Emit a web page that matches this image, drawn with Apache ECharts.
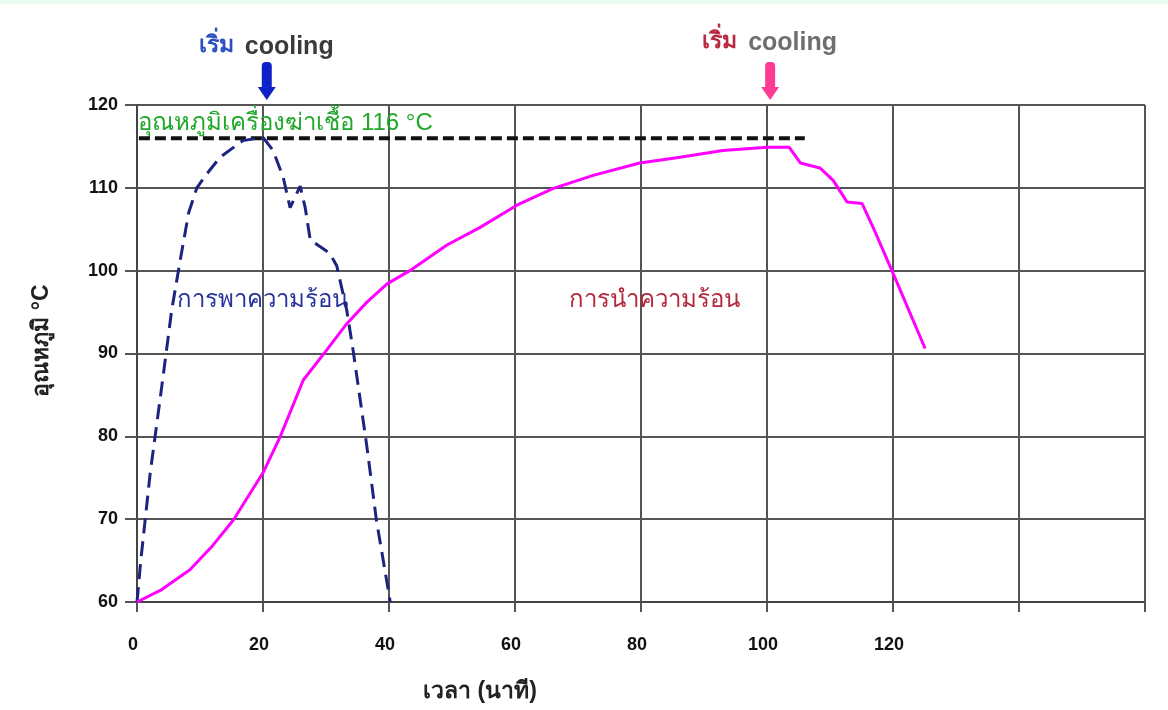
<!DOCTYPE html>
<html>
<head>
<meta charset="utf-8">
<script src="https://cdn.jsdelivr.net/npm/echarts@6/dist/echarts.min.js"></script>
<style>
  html, body { margin: 0; padding: 0; background: #fff; }
  #chart { width: 1168px; height: 710px; }
</style>
</head>
<body>
<div id="chart"></div>
<script>
// การพาความร้อน (dashed blue) : [เวลา นาที, อุณหภูมิ C]
const convection = [
  [0, 60], [0.6, 65], [2.1, 75.6], [4, 86.4], [5.5, 95.2], [6.8, 101], [8.2, 107],
  [9.5, 110], [11.1, 111.7], [13.2, 113.7], [16.8, 115.7], [20, 116.1], [21.6, 114.5],
  [23.2, 111.3], [24.3, 107.6], [25.9, 110.2], [26.7, 107.6], [27.5, 103.7], [30.6, 102.1],
  [31.7, 100.6], [33.3, 95.2], [34.3, 90.4], [36.5, 78.7], [38, 69.9], [40.2, 60]
]
// การนำความร้อน (magenta)
const conduction = [
  [0, 60], [3.7, 61.4], [8.4, 63.9], [12, 66.8], [15.3, 69.9], [20, 75.6], [22.7, 79.9],
  [26.4, 86.8], [30.1, 90.4], [33.3, 93.6], [36.5, 96.2], [39.7, 98.4], [43.3, 100],
  [49.2, 103.1], [54.4, 105.2], [60.3, 107.9], [66, 109.9], [72.4, 111.5], [79.8, 113],
  [86.2, 113.7], [93, 114.5], [100, 114.9], [103.5, 114.9], [105.3, 113], [108.4, 112.4],
  [110.5, 110.9], [112.7, 108.3], [115.1, 108.1], [116.8, 105.3], [120, 99.7], [125.1, 90.6]
]
// อุณหภูมิเครื่องฆ่าเชื้อ 116 C
const sterilizer = [[0.3, 116], [106, 116]]
const xTicks = [0, 20, 40, 60, 80, 100, 120]
const coolStart = [20.6, 100.5]

const font = "'Liberation Sans', Arial, 'Noto Sans', sans-serif"
const chart = echarts.init(document.getElementById('chart'))

chart.setOption({
  animation: false,
  grid: { left: 137, right: 23, top: 105, bottom: 108 },
  xAxis: {
    type: 'value',
    min: 0,
    max: 160,
    interval: 20,
    name: 'เวลา (นาที)',
    nameLocation: 'middle',
    nameGap: 78,
    nameTextStyle: { fontSize: 23, fontWeight: 'bold', color: '#222', fontFamily: font, padding: [0, 322, 0, 0] },
    axisLine: { lineStyle: { color: '#444', width: 2 } },
    axisTick: { show: true, length: 10, lineStyle: { color: '#555', width: 2 } },
    axisLabel: {
      margin: 34,
      fontSize: 18,
      fontWeight: 'bold',
      color: '#111',
      fontFamily: font,
      padding: [0, 8, 0, 0],
      formatter: v => (xTicks.indexOf(v) >= 0 ? String(v) : '')
    },
    splitLine: { show: true, lineStyle: { color: '#555', width: 2 } }
  },
  yAxis: {
    type: 'value',
    min: 60,
    max: 120,
    interval: 10,
    name: 'อุณหภูมิ °C',
    nameLocation: 'middle',
    nameRotate: 90,
    nameGap: 84,
    nameTextStyle: { fontSize: 23, fontWeight: 'bold', color: '#222', fontFamily: font, padding: [0, 0, 0, 26] },
    axisLine: { show: true, lineStyle: { color: '#444', width: 2 } },
    axisTick: { show: true, length: 12, lineStyle: { color: '#555', width: 2 } },
    axisLabel: { margin: 19, fontSize: 18, fontWeight: 'bold', color: '#111', fontFamily: font },
    splitLine: { show: true, lineStyle: { color: '#555', width: 2 } }
  },
  series: [
    {
      name: 'sterilizer',
      type: 'line',
      data: sterilizer,
      symbol: 'none',
      lineStyle: { color: '#111', width: 4, type: [11, 5] },
      z: 3
    },
    {
      name: 'การพาความร้อน',
      type: 'line',
      data: convection,
      symbol: 'none',
      lineStyle: { color: '#1c2480', width: 3, type: [15, 8] },
      z: 4
    },
    {
      name: 'การนำความร้อน',
      type: 'line',
      data: conduction,
      symbol: 'none',
      lineStyle: { color: '#ff00ff', width: 3 },
      z: 5
    }
  ]
})

// annotations placed through the axis scales
const px = p => chart.convertToPixel({ gridIndex: 0 }, p)
const topY = px([0, 120])[1]

function arrow(xv, color) {
  const x = px([xv, 120])[0]
  return {
    type: 'group',
    children: [
      { type: 'rect', shape: { x: x - 5, y: topY - 43, width: 10, height: 28, r: 4 }, style: { fill: color } },
      { type: 'polygon', shape: { points: [[x - 9, topY - 18], [x + 9, topY - 18], [x, topY - 5]] }, style: { fill: color } }
    ]
  }
}

function text(p, str, color, size, weight, dx, dy, align) {
  const q = px(p)
  return {
    type: 'text',
    x: q[0] + (dx || 0),
    y: q[1] + (dy || 0),
    style: {
      text: str,
      fill: color,
      fontSize: size,
      fontWeight: weight || 'normal',
      fontFamily: font,
      align: align || 'left',
      verticalAlign: 'middle'
    }
  }
}

const blueX = coolStart[0]
const pinkX = coolStart[1]

chart.setOption({
  graphic: [
    { type: 'rect', shape: { x: 0, y: 0, width: 1168, height: 4 }, style: { fill: '#eafbf1' } },
    arrow(blueX, '#0f22c8'),
    arrow(pinkX, '#ff3a94'),
    text([blueX, 120], 'เริ่ม', '#2b4fbf', 23, 'bold', -68, -59),
    text([blueX, 120], 'cooling', '#3a3a3a', 25, 'bold', -22, -58),
    text([pinkX, 120], 'เริ่ม', '#b8283f', 23, 'bold', -68, -63),
    text([pinkX, 120], 'cooling', '#6e6e6e', 25, 'bold', -22, -62),
    text([0.2, 117.8], 'อุณหภูมิเครื่องฆ่าเชื้อ 116 °C', '#1fa82a', 24),
    text([6.4, 96.4], 'การพาความร้อน', '#27349a', 24),
    text([68.6, 96.4], 'การนำความร้อน', '#b3283a', 24)
  ]
})
</script>
</body>
</html>
